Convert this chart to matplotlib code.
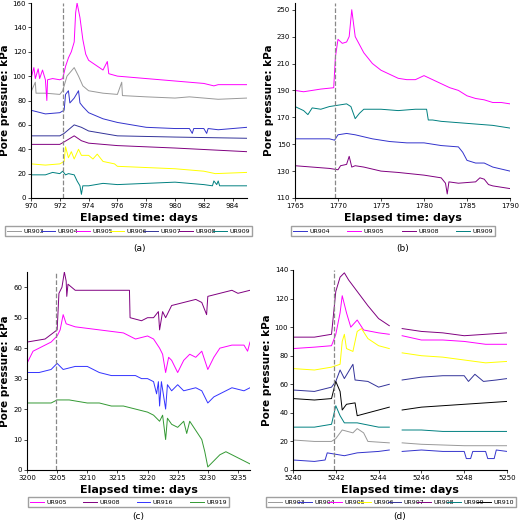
import numpy as np
import matplotlib.pyplot as plt

nan = np.nan

# ---- panel (a) ----
a_ur903_x = [970, 970.3, 970.35, 970.4, 971, 972, 972.2, 972.5, 973, 973.3, 973.6, 974, 975, 976, 976.3, 976.35, 976.4, 978, 980, 981, 982, 983, 985]
a_ur903_y = [87, 95, 86, 86, 86, 85, 88, 100, 107, 100, 92, 88, 86, 85, 95, 84, 84, 83, 82, 83, 82, 81, 82]
a_ur904_x = [970, 971, 972, 972.3, 972.4, 972.6, 972.7, 973, 973.3, 973.4, 973.6, 974, 975, 976, 978, 980, 981, 981.2, 981.3, 982, 982.2, 982.3, 983, 984, 985]
a_ur904_y = [72, 69, 70, 72, 85, 88, 78, 82, 88, 78, 75, 70, 65, 62, 58, 57, 57, 53, 57, 57, 53, 57, 56, 57, 58]
a_ur905_x = [970, 970.2, 970.3, 970.5, 970.6, 970.8, 971, 971.1, 971.15, 971.5, 972, 972.2, 972.4, 972.6, 972.8, 973, 973.1, 973.2, 973.4, 973.6, 973.8, 974, 975, 975.3, 975.4, 976, 978, 980, 982, 982.7, 983, 985]
a_ur905_y = [98, 107, 98, 106, 98, 105, 97, 80, 97, 98, 97, 98, 108, 115, 120, 128, 152, 160, 148, 130, 118, 113, 105, 112, 102, 100, 98, 96, 94, 92, 93, 93]
a_ur906_x = [970, 971, 972, 972.3, 972.4, 972.6, 972.8, 973, 973.3, 973.5, 974, 974.3, 974.6, 975, 975.8, 976, 978, 980, 982, 982.8, 985]
a_ur906_y = [28, 27, 28, 30, 42, 33, 38, 32, 40, 35, 35, 32, 36, 30, 28, 26, 25, 24, 22, 20, 21]
a_ur907_x = [970, 972, 972.3, 973, 973.5, 974, 976, 980, 985]
a_ur907_y = [51, 51, 53, 60, 58, 55, 51, 50, 49]
a_ur908_x = [970, 972, 972.3, 973, 973.5, 974, 976, 980, 985]
a_ur908_y = [44, 44, 46, 51, 47, 45, 43, 41, 38]
a_ur909_x = [970, 971, 971.5, 972, 972.2, 972.4, 972.6, 973, 973.2, 973.4, 973.5, 973.6, 974, 975, 976, 978, 980, 981, 982, 982.6, 982.7, 982.9, 983, 983.1, 985]
a_ur909_y = [19, 19, 21, 20, 22, 19, 20, 19, 14, 10, 3, 10, 10, 12, 11, 12, 13, 12, 11, 10, 14, 11, 14, 10, 10]

# ---- panel (b) ----
b_ur904_x = [1765, 1767, 1769, 1769.6, 1770, 1771, 1772, 1774, 1776, 1778, 1780, 1782, 1784, 1784.5, 1785, 1786, 1787, 1788, 1790]
b_ur904_y = [154, 154, 154, 153, 157, 158, 157, 154, 152, 151, 151, 149, 148, 144, 138, 136, 136, 133, 130]
b_ur905_x = [1765, 1766, 1767, 1768, 1769.5, 1769.7, 1770, 1770.5, 1771, 1771.3, 1771.6, 1771.8, 1772, 1773, 1774, 1775, 1776, 1777, 1778, 1779, 1780, 1781, 1782, 1783, 1784, 1785, 1786, 1787, 1788, 1789, 1790]
b_ur905_y = [190, 189, 190, 191, 192, 215, 228, 225, 226, 230, 250, 240, 230, 218, 210, 205, 202, 199, 198, 198, 201, 198, 195, 192, 190, 186, 184, 183, 181, 181, 180]
b_ur908_x = [1765, 1767, 1769, 1770, 1770.3, 1771, 1771.3, 1771.6, 1772, 1773, 1775, 1777, 1780, 1782, 1782.5, 1782.7, 1782.9, 1784, 1786, 1786.5, 1787, 1787.5, 1788, 1790]
b_ur908_y = [134, 133, 132, 131, 134, 135, 141, 133, 134, 133, 130, 129, 127, 125, 121, 113, 122, 121, 122, 125, 124, 120, 119, 117]
b_ur909_x = [1765, 1766, 1766.5, 1767, 1768, 1769, 1770, 1771, 1771.5, 1772, 1772.5, 1773, 1775, 1777, 1779, 1780.3, 1780.5, 1781, 1782, 1784, 1786, 1788, 1790]
b_ur909_y = [178, 175, 172, 177, 176, 178, 179, 180, 178, 169, 173, 176, 176, 175, 176, 176, 168, 168, 167, 166, 165, 164, 162]

# ---- panel (c) ----
c_ur905_x = [3200, 3201, 3202, 3203, 3204, 3205, 3205.5, 3206, 3206.5, 3208, 3212, 3216, 3218, 3220, 3221, 3222, 3222.5, 3223, 3223.5, 3224, 3225, 3226, 3227, 3228, 3229, 3230, 3231, 3232, 3234, 3236, 3236.6, 3237]
c_ur905_y = [35, 39, 40, 41, 42, 44, 46, 51, 48, 47, 46, 45, 43, 44, 43, 40, 38, 32, 37, 36, 32, 36, 38, 37, 39, 33, 37, 40, 41, 41, 39, 42]
c_ur908_x = [3200, 3203, 3205, 3205.3, 3205.8, 3206.2, 3206.5, 3206.6, 3206.8, 3208, 3212, 3216, 3217, 3217.1, 3219, 3220, 3221, 3221.8, 3222, 3222.5, 3223, 3224, 3226, 3228, 3229, 3229.8, 3230, 3232, 3234, 3235, 3237]
c_ur908_y = [42, 43, 46, 58, 60, 65, 62, 57, 61, 59, 59, 59, 59, 50, 49, 50, 50, 52, 46, 52, 50, 54, 55, 56, 55, 51, 57, 58, 59, 58, 59]
c_ur916_x = [3200, 3202, 3204, 3205, 3206, 3208, 3210, 3212, 3214, 3216, 3218, 3219, 3220, 3221, 3221.5, 3221.8, 3222, 3222.3, 3223, 3223.3, 3224, 3225, 3226, 3228, 3229, 3230, 3231, 3232, 3233, 3234, 3236, 3237]
c_ur916_y = [32, 32, 33, 35, 33, 34, 34, 32, 31, 31, 31, 30, 30, 29, 25, 29, 21, 29, 20, 28, 26, 28, 26, 27, 26, 22, 24, 25, 26, 27, 26, 27]
c_ur919_x = [3200, 3202, 3204, 3205, 3207, 3210, 3212, 3214, 3216, 3218, 3220, 3221, 3222, 3222.5, 3223, 3223.3, 3224, 3225, 3226, 3226.5, 3227, 3228, 3229, 3229.5, 3230, 3231, 3232, 3233, 3234, 3235, 3236, 3237]
c_ur919_y = [22, 22, 22, 23, 23, 22, 22, 21, 21, 20, 19, 18, 16, 18, 10, 17, 15, 14, 16, 12, 16, 13, 10, 6, 1, 3, 5, 6, 5, 4, 3, 2]

# ---- panel (d) ----  (nan = logger gap)
d_ur903_x = [5240, 5241, 5241.8, 5242, 5242.3, 5242.8, 5243, 5243.3, 5243.5, 5244.5, 5244.8, 5245.1, 5246, 5248, 5250]
d_ur903_y = [21, 20, 20, 22, 28, 26, 29, 26, 20, 19, nan, 19, 18, 17, 17]
d_ur904_x = [5240, 5241, 5241.5, 5241.6, 5242, 5242.4, 5243, 5244, 5244.5, 5244.8, 5245.1, 5246, 5247, 5248, 5248.1, 5248.3, 5248.4, 5249, 5249.1, 5249.4, 5249.5, 5250]
d_ur904_y = [7, 6, 7, 12, 11, 10, 12, 13, 14, nan, 13, 14, 13, 13, 8, 8, 13, 13, 8, 8, 14, 13]
d_ur905_x = [5240, 5241, 5241.8, 5242, 5242.2, 5242.3, 5242.5, 5242.7, 5243, 5243.3, 5244, 5244.5, 5244.8, 5245.1, 5246, 5247, 5248, 5249, 5250]
d_ur905_y = [85, 86, 87, 95, 110, 122, 110, 100, 105, 98, 96, 95, nan, 94, 91, 91, 90, 88, 88]
d_ur906_x = [5240, 5241, 5241.8, 5242.2, 5242.3, 5242.4, 5242.5, 5242.8, 5243, 5243.2, 5243.5, 5244, 5244.5, 5244.8, 5245.1, 5246, 5247, 5248, 5249, 5250]
d_ur906_y = [71, 70, 72, 74, 90, 95, 85, 83, 97, 99, 92, 87, 85, nan, 82, 80, 79, 77, 75, 76]
d_ur907_x = [5240, 5241, 5241.8, 5242, 5242.2, 5242.4, 5242.8, 5242.9, 5243.5, 5244, 5244.5, 5244.8, 5245.1, 5246, 5247, 5248, 5248.2, 5248.5, 5248.9, 5249.5, 5250]
d_ur907_y = [56, 55, 58, 62, 70, 64, 74, 63, 62, 58, 60, nan, 63, 65, 66, 66, 62, 67, 62, 63, 64]
d_ur908_x = [5240, 5241, 5241.8, 5242, 5242.2, 5242.4, 5242.6, 5243, 5243.5, 5244, 5244.5, 5244.8, 5245.1, 5246, 5247, 5248, 5249, 5250]
d_ur908_y = [93, 93, 95, 125, 135, 138, 133, 125, 115, 106, 101, nan, 99, 97, 96, 94, 95, 96]
d_ur909_x = [5240, 5241, 5241.8, 5242, 5242.2, 5242.4, 5243, 5244, 5244.5, 5244.8, 5245.1, 5246, 5247, 5248, 5249, 5250]
d_ur909_y = [30, 30, 32, 45, 38, 33, 33, 30, 30, nan, 28, 28, 27, 27, 27, 27]
d_ur910_x = [5240, 5241, 5241.8, 5242, 5242.2, 5242.3, 5242.5, 5242.9, 5243, 5243.5, 5244, 5244.5, 5244.8, 5245.1, 5246, 5247, 5248, 5249, 5250]
d_ur910_y = [50, 49, 50, 62, 55, 42, 46, 47, 38, 40, 42, 44, nan, 42, 44, 45, 46, 47, 48]

colors = {"UR903": "#999999", "UR904": "#3333cc", "UR905": "#ff00ff", "UR906": "#ffff00",
          "UR907": "#333399", "UR908": "#800080", "UR909": "#008080", "UR910": "#000000",
          "UR916": "#3333ff", "UR919": "#339933"}

fig = plt.figure(figsize=(5.2, 5.21), dpi=100)
W, H = 520, 521


def r(l, t, rr, b):
    return [l / W, 1 - b / H, (rr - l) / W, (b - t) / H]


def panel(box, series, xlim, ylim, xticks, yticks, vline, label, leg_box, label_y):
    ax = fig.add_axes(r(*box))
    for name, xs, ys in series:
        ax.plot(xs, ys, color=colors[name], lw=0.7, label=name)
    ax.axvline(vline, color="#888888", ls="--", lw=0.9)
    ax.set_xlim(xlim)
    ax.set_ylim(ylim)
    ax.set_xticks(xticks)
    ax.set_yticks(yticks)
    ax.tick_params(labelsize=5, length=2, width=0.5, pad=1.5)
    for s in ["top", "right"]:
        ax.spines[s].set_visible(False)
    ax.set_xlabel("Elapsed time: days", fontsize=8, fontweight="bold", labelpad=3)
    ax.set_ylabel("Pore pressure: kPa", fontsize=7.5, fontweight="bold", labelpad=2)
    l, t, rr, b = leg_box
    fig.legend(*ax.get_legend_handles_labels(), loc="center",
               bbox_to_anchor=(l / W, 1 - b / H, (rr - l) / W, (b - t) / H),
               ncol=len(series), fontsize=4.5, frameon=True, fancybox=False,
               edgecolor="#888888", handlelength=2.2, columnspacing=1.0,
               handletextpad=0.4, borderpad=0.3, mode="expand")
    fig.text((box[0] + box[2]) / 2 / W, 1 - label_y / H, label, ha="center", va="center", fontsize=6.5)


panel((31, 3, 247, 198),
      [("UR903", a_ur903_x, a_ur903_y), ("UR904", a_ur904_x, a_ur904_y), ("UR905", a_ur905_x, a_ur905_y),
       ("UR906", a_ur906_x, a_ur906_y), ("UR907", a_ur907_x, a_ur907_y), ("UR908", a_ur908_x, a_ur908_y),
       ("UR909", a_ur909_x, a_ur909_y)],
      (970, 985), (0, 160), range(970, 985, 2), range(0, 161, 20), 972.25, "(a)",
      (2, 226, 255, 236), 248)

panel((295, 3, 510, 198),
      [("UR904", b_ur904_x, b_ur904_y), ("UR905", b_ur905_x, b_ur905_y),
       ("UR908", b_ur908_x, b_ur908_y), ("UR909", b_ur909_x, b_ur909_y)],
      (1765, 1790), (110, 255), range(1765, 1791, 5), range(110, 251, 20), 1769.6, "(b)",
      (288, 226, 498, 236), 248)

panel((27, 272, 250, 470),
      [("UR905", c_ur905_x, c_ur905_y), ("UR908", c_ur908_x, c_ur908_y),
       ("UR916", c_ur916_x, c_ur916_y), ("UR919", c_ur919_x, c_ur919_y)],
      (3200, 3237), (0, 65), range(3200, 3236, 5), range(0, 61, 10), 3204.8, "(c)",
      (25, 497, 232, 507), 516)

panel((293, 270, 507, 470),
      [("UR903", d_ur903_x, d_ur903_y), ("UR904", d_ur904_x, d_ur904_y), ("UR905", d_ur905_x, d_ur905_y),
       ("UR906", d_ur906_x, d_ur906_y), ("UR907", d_ur907_x, d_ur907_y), ("UR908", d_ur908_x, d_ur908_y),
       ("UR909", d_ur909_x, d_ur909_y), ("UR910", d_ur910_x, d_ur910_y)],
      (5240, 5250), (0, 140), range(5240, 5251, 2), range(0, 141, 20), 5241.9, "(d)",
      (263, 497, 519, 507), 516)

fig.savefig("out.png", dpi=100)
